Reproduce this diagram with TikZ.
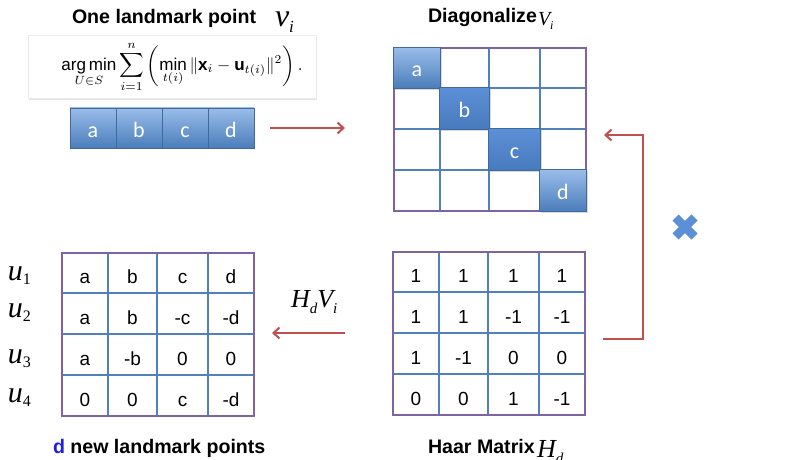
\documentclass[tikz,border=0pt]{standalone}
\usepackage{amsmath}
\usepackage{fontspec}
\setmainfont{Liberation Sans}
\newfontfamily\tms{Liberation Serif}
\newfontfamily\carl{Carlito}
\usetikzlibrary{arrows.meta,shadows,fit}
\definecolor{gridblue}{HTML}{4F81BD}
\definecolor{outerpurple}{HTML}{8064A2}
\definecolor{arrowred}{HTML}{C0504D}
\definecolor{celltop}{HTML}{9ABDEA}
\definecolor{cellbot}{HTML}{4A7DBA}
\definecolor{midtop}{HTML}{5C90D6}
\definecolor{midbot}{HTML}{4779BD}
\definecolor{dblue}{HTML}{1F1FE0}
\newcommand\mygrid[3]{%
  \foreach \c/\cx/\cw in {1/23/46,2/70.5/49,3/120.5/51,4/169/46}{
    \foreach \r/\ry/\rh in {1/20/40,2/60.5/41,3/101.5/41,4/142.5/41}{
      \node[wcell, minimum width=\cw pt, minimum height=\rh pt] (#1-\r-\c) at (#2+\cx,#3+\ry) {};
    }}
  \node[outerbox, fit=(#1-1-1)(#1-4-4)] (#1) {};
}
\newcommand\gridrow[6]{%
  \node[celltxt] (#1t-#2-1) at (#1-#2-1) {#3};
  \node[celltxt] (#1t-#2-2) at (#1-#2-2) {#4};
  \node[celltxt] (#1t-#2-3) at (#1-#2-3) {#5};
  \node[celltxt] (#1t-#2-4) at (#1-#2-4) {#6};
}
\begin{document}
\begin{tikzpicture}[x=1pt,y=-1pt,
  every node/.style={inner sep=0pt, outer sep=0pt},
  wcell/.style={draw=gridblue, line width=1.6pt, fill=white},
  outerbox/.style={draw=outerpurple, line width=2pt, inner sep=0pt},
  bcell/.style={draw=cellbot!85!black, line width=0.6pt, top color=celltop, bottom color=cellbot,
     text=white, font=\carl\fontsize{22}{22}\selectfont, text height=18pt, text depth=0pt,
     drop shadow={opacity=0.3, shadow xshift=1pt, shadow yshift=-1.2pt}},
  mcell/.style={bcell, top color=midtop, bottom color=midbot},
  celltxt/.style={font=\fontsize{19}{19}\selectfont, text height=21pt, text depth=0pt},
  redarrow/.style={draw=arrowred, line width=2pt, -{Straight Barb[length=6pt,width=11pt]}},
  titlefont/.style={font=\bfseries\fontsize{19.6}{20}\selectfont},
  tmsit/.style={font=\tms\itshape\fontsize{#1}{#1}\selectfont},
]
\useasboundingbox (0,0) rectangle (796,460);

% ---- top left: title, formula, row vector
\node[titlefont, anchor=base west] (t1) at (72,24) {One landmark point};
\node[tmsit=32, anchor=base west] (t1v) at (275,27) {v\raisebox{-6pt}{\fontsize{17}{17}\selectfont i}};
\node[fill=white, draw=black!8, minimum width=288pt, minimum height=63pt,
      drop shadow={opacity=0.22, shadow xshift=1pt, shadow yshift=-1.5pt}] (fbox) at (172,67) {};
\node (formula) at (182,67) {\resizebox{241pt}{!}{$\displaystyle
  \operatorname*{arg\,min}_{U\in S}\sum_{i=1}^{n}\left(\min_{t(i)}\|\mathbf{x}_i-\mathbf{u}_{t(i)}\|^2\right).$}};
\foreach \t [count=\i] in {a,b,c,d}
  \node[bcell, minimum width=46pt, minimum height=40pt] (row\i) at ({47+46*\i},128) {\t};

% ---- top right: diagonal matrix
\node[titlefont, anchor=base west] (t2) at (428,23) {Diagonalize};
\node[tmsit=20, anchor=base west] (t2v) at (538,26) {V\raisebox{-4pt}{\fontsize{12}{12}\selectfont i}};
\mygrid{D}{394}{48}
\node[bcell, minimum width=47pt, minimum height=41pt] (Da) at (D-1-1) {a};
\node[mcell, minimum width=50pt, minimum height=42pt] (Db) at (D-2-2) {b};
\node[mcell, minimum width=52pt, minimum height=42pt] (Dc) at (D-3-3) {c};
\node[bcell, minimum width=47pt, minimum height=42pt] (Dd) at (D-4-4) {d};

% ---- bottom right: Haar matrix
\mygrid{H}{393}{252}
\gridrow{H}{1}{1}{1}{1}{1}
\gridrow{H}{2}{1}{1}{-1}{-1}
\gridrow{H}{3}{1}{-1}{0}{0}
\gridrow{H}{4}{0}{0}{1}{-1}
\node[titlefont, anchor=base west] (t3) at (428,453) {Haar Matrix};
\node[tmsit=26, anchor=base west] (t3h) at (537,457) {H\raisebox{-6pt}{\fontsize{15}{15}\selectfont d}};

% ---- bottom left: result matrix
\mygrid{L}{62}{253}
\gridrow{L}{1}{a}{b}{c}{d}
\gridrow{L}{2}{a}{b}{-c}{-d}
\gridrow{L}{3}{a}{-b}{0}{0}
\gridrow{L}{4}{0}{0}{c}{-d}
\foreach \k/\yb in {1/280,2/317,3/363,4/402}
  \node[tmsit=30, anchor=base west] (u\k) at (8,\yb) {u\raisebox{-4pt}{\upshape\fontsize{16}{16}\selectfont\k}};
\node[titlefont, anchor=base west] (t4) at (53,453) {\textcolor{dblue}{d} new landmark points};

% ---- connectors
\draw[redarrow, shorten <=16pt, shorten >=49pt] (row4.east) -- (row4.east -| D.west);
\draw[redarrow, shorten <=48pt, shorten >=18pt] (H.west |- 0,333) -- (L.east |- 0,333);
\node[tmsit=26, anchor=base west] (hv) at (291,307) {H\raisebox{-6pt}{\fontsize{15}{15}\selectfont d}V\raisebox{-6pt}{\fontsize{15}{15}\selectfont i}};
\coordinate (b1) at (603,339);
\coordinate (b2) at (643,339);
\coordinate (b3) at (643,135);
\coordinate (b4) at (604,135);
\draw[redarrow, line join=miter] (b1) -- (b2) -- (b3) -- (b4);

% ---- multiplication cross
\coordinate (xc) at (685,227);
\draw[line width=8.5pt, draw=midtop, line cap=butt,
      drop shadow={opacity=0.3, shadow xshift=0.8pt, shadow yshift=-1pt}]
  ([shift={(-9.5,-9.5)}]xc) -- ([shift={(9.5,9.5)}]xc)
  ([shift={(-9.5,9.5)}]xc) -- ([shift={(9.5,-9.5)}]xc);
\end{tikzpicture}
\end{document}
